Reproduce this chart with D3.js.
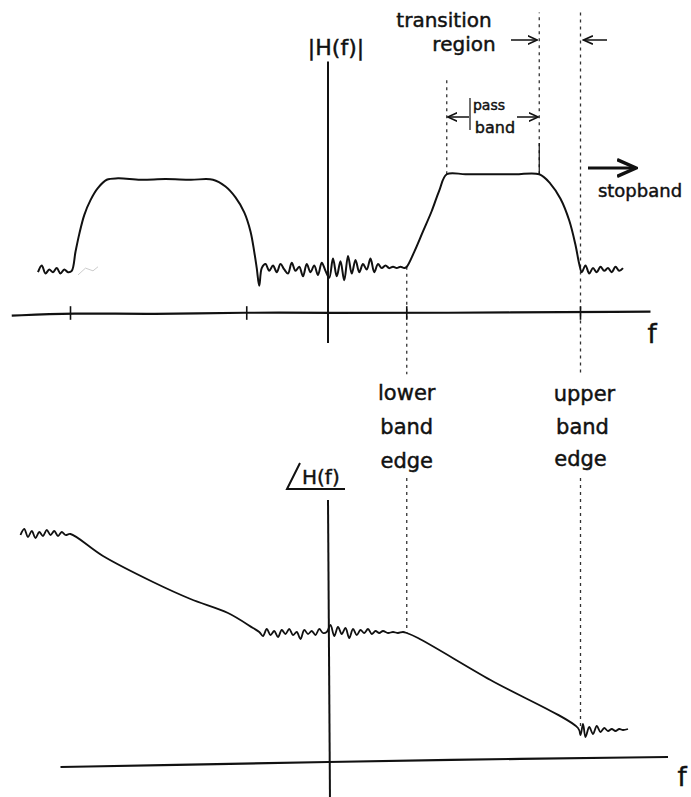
<!DOCTYPE html>
<html>
<head>
<meta charset="utf-8">
<script src="https://cdn.jsdelivr.net/npm/d3@7/dist/d3.min.js"></script>
<style>
  html, body { margin: 0; padding: 0; background: #fff; }
  svg { display: block; }
  text { font-family: "DejaVu Sans", sans-serif; fill: #111; stroke: #111; stroke-width: 0.45px; }
</style>
</head>
<body>
<script>
// Band-pass filter sketch: magnitude |H(f)| (top) and phase ∠H(f) (bottom).

// Frequency positions of the band edges and pass-band limits
const lowerBandEdge = 3.15;
const passStart = 4.75;
const passEnd = 8.45;
const upperBandEdge = 10.1;
const axisTicks = [-10.3, -3.25, lowerBandEdge, upperBandEdge];

// Magnitude trace [f, |H|]
const magnitudeTrace = [
  [-11.60, 0.30], [-11.45, 0.35], [-11.30, 0.29], [-11.15, 0.32], [-11.00, 0.30],
  [-10.85, 0.33], [-10.70, 0.29], [-10.55, 0.32], [-10.40, 0.30], [-10.25, 0.31],
  [-10.10, 0.45], [-9.95, 0.58], [-9.75, 0.72], [-9.50, 0.83], [-9.20, 0.92],
  [-8.85, 0.98], [-8.40, 0.99], [-7.50, 0.98], [-6.50, 0.985], [-5.50, 0.98], [-4.60, 0.98],
  [-4.10, 0.93], [-3.70, 0.85], [-3.35, 0.74], [-3.10, 0.60], [-2.95, 0.45],
  [-2.85, 0.33], [-2.75, 0.20], [-2.65, 0.33],
  [-2.50, 0.36], [-2.35, 0.31], [-2.20, 0.35], [-2.05, 0.30], [-1.90, 0.36],
  [-1.75, 0.32], [-1.60, 0.29], [-1.45, 0.37], [-1.30, 0.31], [-1.15, 0.34],
  [-1.00, 0.27], [-0.85, 0.36], [-0.70, 0.30], [-0.55, 0.35], [-0.40, 0.28],
  [-0.25, 0.37], [-0.10, 0.31], [0.05, 0.26], [0.20, 0.40], [0.35, 0.27],
  [0.50, 0.38], [0.65, 0.24], [0.80, 0.42], [0.95, 0.29], [1.10, 0.39],
  [1.25, 0.30], [1.40, 0.36], [1.55, 0.32], [1.70, 0.40], [1.85, 0.30],
  [2.00, 0.36], [2.15, 0.33], [2.30, 0.35], [2.45, 0.33], [2.60, 0.34],
  [2.75, 0.33], [2.90, 0.34], [3.05, 0.33], [3.15, 0.34],
  [3.45, 0.45], [3.80, 0.60], [4.15, 0.75], [4.45, 0.90], [4.75, 1.02],
  [5.50, 1.02], [6.50, 1.02], [7.50, 1.02], [8.45, 1.02],
  [8.90, 0.95], [9.30, 0.84], [9.65, 0.68], [9.90, 0.50], [10.05, 0.36], [10.15, 0.30],
  [10.30, 0.35], [10.45, 0.29], [10.60, 0.33], [10.75, 0.30], [10.90, 0.34],
  [11.05, 0.31], [11.20, 0.33], [11.35, 0.30], [11.50, 0.34], [11.65, 0.31], [11.80, 0.33]
];

// Phase trace [f, ∠H]
const phaseTrace = [
  [-12.30, 2.27], [-12.15, 2.33], [-12.00, 2.25], [-11.85, 2.31], [-11.70, 2.24],
  [-11.55, 2.30], [-11.40, 2.26], [-11.25, 2.32], [-11.10, 2.27], [-10.95, 2.31],
  [-10.80, 2.26], [-10.65, 2.30], [-10.50, 2.27], [-10.30, 2.28],
  [-9.00, 2.06], [-7.00, 1.80], [-5.50, 1.63], [-4.00, 1.49], [-3.00, 1.34], [-2.75, 1.30],
  [-2.60, 1.26], [-2.45, 1.33], [-2.30, 1.27], [-2.15, 1.31], [-2.00, 1.25],
  [-1.85, 1.32], [-1.70, 1.28], [-1.55, 1.33], [-1.40, 1.27], [-1.25, 1.30],
  [-1.10, 1.23], [-0.95, 1.32], [-0.80, 1.28], [-0.65, 1.31], [-0.50, 1.27],
  [-0.35, 1.33], [-0.20, 1.29], [-0.05, 1.30], [0.10, 1.37], [0.25, 1.26],
  [0.40, 1.35], [0.55, 1.28], [0.70, 1.34], [0.85, 1.24], [1.00, 1.33],
  [1.15, 1.27], [1.30, 1.32], [1.45, 1.29], [1.60, 1.33], [1.75, 1.28],
  [1.90, 1.31], [2.05, 1.29], [2.20, 1.31], [2.40, 1.29], [2.60, 1.30],
  [2.80, 1.29], [3.00, 1.30], [3.15, 1.29],
  [3.60, 1.24], [6.50, 0.82], [10.00, 0.34],
  [10.10, 0.27], [10.20, 0.38], [10.30, 0.25], [10.45, 0.35], [10.60, 0.28],
  [10.75, 0.36], [10.90, 0.30], [11.05, 0.34], [11.20, 0.31], [11.35, 0.33],
  [11.50, 0.31], [11.65, 0.33], [11.80, 0.32], [12.00, 0.33]
];

// Frequency axis extents for each panel
const magAxisLine = [[-12.65, -0.02], [-10.3, 0.0], [-7.0, -0.01], [-3.25, 0.005], [0, 0], [4.0, 0.0], [12.9, 0.01]];
const phaseAxisLine = [[-10.7, -0.05], [-4.0, -0.02], [0, 0], [4.0, 0.02], [13.6, 0.05]];

const W = 691, H = 797;
const svg = d3.select("body").append("svg").attr("width", W).attr("height", H);

const x = d3.scaleLinear().domain([0, 1]).range([328, 353]);
const yMag = d3.scaleLinear().domain([0, 1]).range([313, 177]);
const yPh = d3.scaleLinear().domain([0, 1]).range([762, 662]);

const ink = "#111";

const magLine = d3.line().x(d => x(d[0])).y(d => yMag(d[1])).curve(d3.curveCatmullRom.alpha(0.5));
const phLine = d3.line().x(d => x(d[0])).y(d => yPh(d[1])).curve(d3.curveCatmullRom.alpha(0.5));
const straightMag = d3.line().x(d => x(d[0])).y(d => yMag(d[1])).curve(d3.curveBasis);
const straightPh = d3.line().x(d => x(d[0])).y(d => yPh(d[1])).curve(d3.curveBasis);

// ---------- dashed guide lines ----------
const dash = (x1, y1, x2, y2) => svg.append("line")
  .attr("x1", x1).attr("y1", y1).attr("x2", x2).attr("y2", y2)
  .attr("stroke", "#333").attr("stroke-width", 1.3).attr("stroke-dasharray", "3,4");

dash(x(passStart), yMag(1.02), x(passStart), yMag(1.73));
dash(x(passEnd), yMag(1.02), x(passEnd), yMag(2.21));
dash(x(upperBandEdge), yMag(2.21), x(upperBandEdge), yMag(-0.45));
dash(x(lowerBandEdge), yMag(0.34), x(lowerBandEdge), yMag(-0.45));
dash(x(lowerBandEdge), yPh(2.84), x(lowerBandEdge), yPh(1.29));
dash(x(upperBandEdge), yPh(2.84), x(upperBandEdge), yPh(0.34));
// short solid stroke on the upper pass-band limit
svg.append("line").attr("x1", x(passEnd)).attr("x2", x(passEnd))
  .attr("y1", yMag(1.02)).attr("y2", yMag(1.25)).attr("stroke", ink).attr("stroke-width", 1.2);

// ---------- axes ----------
svg.append("path").attr("d", straightMag(magAxisLine))
  .attr("fill", "none").attr("stroke", ink).attr("stroke-width", 2.2);
svg.append("line").attr("x1", x(0)).attr("x2", x(0))
  .attr("y1", yMag(1.85)).attr("y2", yMag(-0.22)).attr("stroke", ink).attr("stroke-width", 2);
svg.selectAll(".tick").data(axisTicks).join("line")
  .attr("x1", d => x(d)).attr("x2", d => x(d))
  .attr("y1", yMag(0.05)).attr("y2", yMag(-0.05))
  .attr("stroke", ink).attr("stroke-width", 1.6);

svg.append("path").attr("d", straightPh(phaseAxisLine))
  .attr("fill", "none").attr("stroke", ink).attr("stroke-width", 2.2);
svg.append("line").attr("x1", x(0)).attr("x2", x(0.08))
  .attr("y1", yPh(2.62)).attr("y2", yPh(-0.4)).attr("stroke", ink).attr("stroke-width", 2);

// ---------- traces ----------
svg.append("path").attr("d", magLine(magnitudeTrace))
  .attr("fill", "none").attr("stroke", ink).attr("stroke-width", 2)
  .attr("stroke-linejoin", "round");
svg.append("path").attr("d", phLine(phaseTrace))
  .attr("fill", "none").attr("stroke", ink).attr("stroke-width", 1.8)
  .attr("stroke-linejoin", "round");

// faint erased scribble after the left stop band
svg.append("path")
  .attr("d", d3.line().x(d => x(d[0])).y(d => yMag(d[1]))([[-10.0, 0.28], [-9.7, 0.33], [-9.4, 0.31], [-9.2, 0.34]]))
  .attr("fill", "none").attr("stroke", "#ccc").attr("stroke-width", 1);

// ---------- labels ----------
const label = (txt, cx, by, size, anchor = "middle") => svg.append("text")
  .attr("x", cx).attr("y", by).attr("font-size", size).attr("text-anchor", anchor).text(txt);

label("|H(f)|", x(0) + 8, 55, 22);
label("f", 652, 343, 26);
label("f", 682, 786, 26);

label("transition", 444, 27, 20);
label("region", 464, 51, 20);
label("pass", 489, 110, 14);
label("band", 495, 133, 16);
label("stopband", 640, 197, 18);

label("lower", x(lowerBandEdge), 400, 21);
label("band", x(lowerBandEdge), 434, 21);
label("edge", x(lowerBandEdge), 468, 21);
label("upper", x(upperBandEdge) + 4, 401, 21);
label("band", x(upperBandEdge) + 2, 434, 21);
label("edge", x(upperBandEdge), 466, 21);

// ∠H(f): angle stroke and underline, then the text
svg.append("path").attr("d", "M300,463 L287,489 L345,489")
  .attr("fill", "none").attr("stroke", ink).attr("stroke-width", 2);
label("H(f)", 302, 484, 20, "start");

// arrows
const defs = svg.append("defs");
defs.append("marker").attr("id", "ah").attr("viewBox", "0 0 10 10")
  .attr("refX", 9).attr("refY", 5).attr("markerWidth", 7).attr("markerHeight", 7)
  .attr("orient", "auto-start-reverse")
  .append("path").attr("d", "M0,1 L9,5 L0,9").attr("fill", "none").attr("stroke", ink).attr("stroke-width", 1.6);

const arrow = (x1, y1, x2, y2, w = 1.5) => svg.append("line")
  .attr("x1", x1).attr("y1", y1).attr("x2", x2).attr("y2", y2)
  .attr("stroke", ink).attr("stroke-width", w).attr("marker-end", "url(#ah)");

arrow(511, 40, x(passEnd) - 2, 40);
arrow(607, 40, x(upperBandEdge) + 3, 40);
arrow(469, 117, x(passStart) + 1, 117);
arrow(517, 117, x(passEnd) - 1, 117);
arrow(588, 168, 636, 168, 3);
svg.append("line").attr("x1", 470).attr("x2", 470).attr("y1", 98).attr("y2", 130)
  .attr("stroke", ink).attr("stroke-width", 1.2);
</script>
</body>
</html>
